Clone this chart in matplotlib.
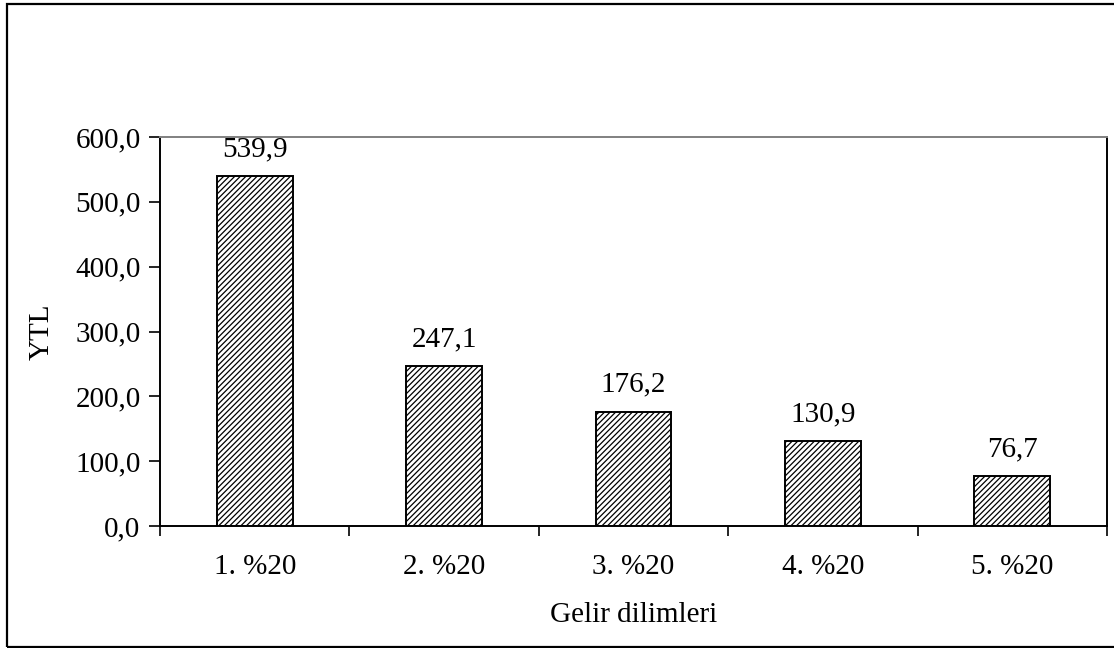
import numpy as np
import matplotlib.pyplot as plt
from matplotlib.patches import Rectangle

plt.rcParams['font.family'] = ['Liberation Serif', 'DejaVu Serif']
plt.rcParams['hatch.linewidth'] = 0.9

categories = ["1. %20", "2. %20", "3. %20", "4. %20", "5. %20"]
values = [539.9, 247.1, 176.2, 130.9, 76.7]
yticks = [0, 100, 200, 300, 400, 500, 600]

fig = plt.figure(figsize=(11.14, 6.48), dpi=100)
ax = fig.add_axes([160/1114, 1 - 526/648, 947/1114, 389/648])

x = np.arange(len(categories))
bars = ax.bar(x, values, width=0.4, color="white", edgecolor="black",
              linewidth=1.4, hatch="//////")

for xi, v in zip(x, values):
    ax.annotate(f"{v:.1f}".replace(".", ","), (xi, v), xytext=(0, 10),
                textcoords="offset points", ha="center", va="bottom", fontsize=21)

ax.set_xlim(-0.5, len(categories) - 0.5)
ax.set_ylim(0, 600)
ax.set_yticks(yticks)
ax.set_yticklabels([f"{t:.1f}".replace(".", ",") for t in yticks], fontsize=21)
ax.tick_params(axis="y", direction="out", length=8, width=1.2, pad=6)

# category boundaries as major ticks, names at centres
ax.set_xticks(np.arange(-0.5, len(categories), 1.0))
ax.set_xticklabels([])
ax.tick_params(axis="x", which="major", direction="out", length=7, width=1.2)
ax.set_xticks(x, minor=True)
ax.set_xticklabels(categories, minor=True, fontsize=21)
ax.tick_params(axis="x", which="minor", length=0, pad=20)

ax.set_ylabel("YTL", fontsize=21, labelpad=15)
ax.set_xlabel("Gelir dilimleri", fontsize=21, labelpad=16)

ax.spines["left"].set_linewidth(1.4)
ax.spines["bottom"].set_linewidth(1.4)
ax.spines["top"].set_color("#808080")
ax.spines["top"].set_linewidth(1.4)
ax.spines["right"].set_color("black")
ax.spines["right"].set_linewidth(1.4)

# outer chart frame
fig.patches.append(Rectangle((7/1114, 1/648), 1.1, 643/648, transform=fig.transFigure,
                             fill=False, edgecolor="black", linewidth=1.6))

fig.savefig("out.png", dpi=100)
